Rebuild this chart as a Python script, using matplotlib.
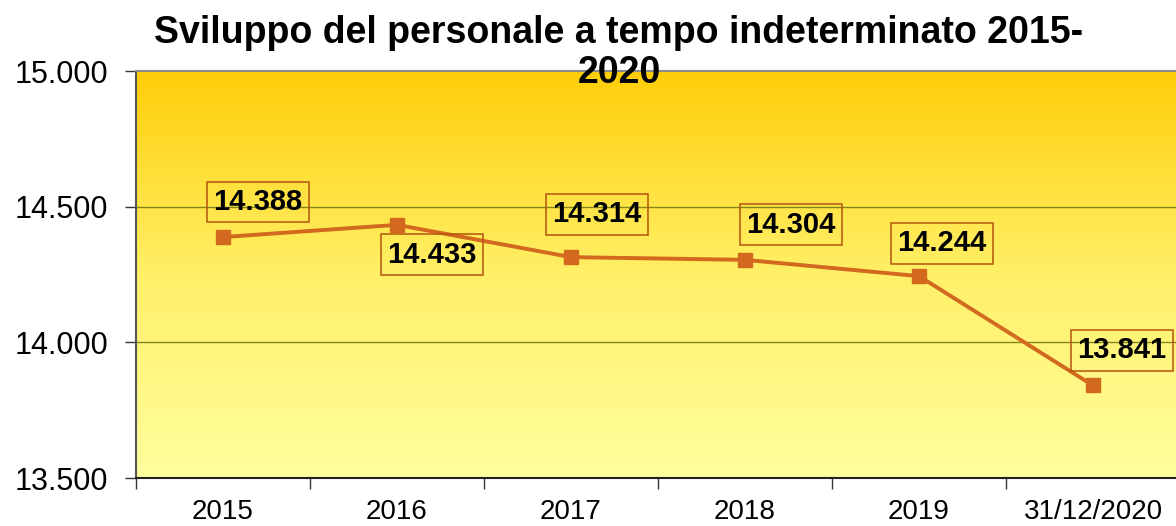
import matplotlib
matplotlib.use("Agg")
import matplotlib.pyplot as plt
import numpy as np
from matplotlib.colors import LinearSegmentedColormap

categories = ["2015", "2016", "2017", "2018", "2019", "31/12/2020"]
values = [14388, 14433, 14314, 14304, 14244, 13841]
label_offsets = [(35, 35), (35, -30), (26, 43), (46, 35), (23, 33), (29, 35)]
yticks = [13500, 14000, 14500, 15000]

plt.rcParams['font.family'] = ['Liberation Sans', 'DejaVu Sans']

def fmt(v):
    return f"{v:,}".replace(",", ".")

fig = plt.figure(figsize=(11.76, 5.26), dpi=100)
ax = fig.add_axes([136/1176, 1-478/526, 1044/1176, 407/526])

x = np.arange(len(categories))
ax.set_xlim(-0.5, len(categories) - 0.5)
ax.set_ylim(13500, 15000)

cmap = LinearSegmentedColormap.from_list("g", ["#FFFF9E", "#FFF068", "#FFCE08"])
grad = np.linspace(0, 1, 256).reshape(-1, 1)
ax.imshow(grad, aspect='auto', cmap=cmap, origin='lower',
          extent=[-0.5, len(categories) - 0.5, 13500, 15000], zorder=0)

for yv in [14000, 14500]:
    ax.axhline(yv, color="#84841a", lw=1.0, zorder=1)

ax.plot(x, values, color="#D2691E", lw=2.8, marker='s', markersize=9.5,
        markerfacecolor="#D2691E", markeredgecolor="#D2691E", zorder=3)

for xi, v, (dx, dy) in zip(x, values, label_offsets):
    ax.annotate(fmt(v), (xi, v), xytext=(dx, dy), textcoords='offset pixels',
                ha='center', va='center', fontsize=21, fontweight='bold',
                bbox=dict(boxstyle='square,pad=0.22', fc='none', ec='#B5540F', lw=1.1),
                zorder=4)

ax.set_yticks(yticks)
ax.set_yticklabels([fmt(t) for t in yticks], fontsize=22)
ax.set_xticks(np.arange(-0.5, len(categories), 1.0))
ax.set_xticklabels([])
ax.set_xticks(x, minor=True)
ax.set_xticklabels(categories, minor=True, fontsize=20)
ax.tick_params(axis='x', which='minor', length=0, pad=15)
ax.tick_params(axis='x', which='major', length=8, width=1, color='#333333')
ax.tick_params(axis='y', length=8, width=1, color='#333333', pad=12)

ax.spines['left'].set_color('#555555')
ax.spines['left'].set_linewidth(1.5)
ax.spines['bottom'].set_color('#222222')
ax.spines['bottom'].set_linewidth(1.5)
ax.spines['top'].set_color('#8a8a8a')
ax.spines['top'].set_linewidth(1.5)
ax.spines['right'].set_visible(False)

fig.text(619/1176, 1-33/526, "Sviluppo del personale a tempo indeterminato 2015-",
         ha='center', va='center', fontsize=27, fontweight='bold')
fig.text(619/1176, 1-73/526, "2020",
         ha='center', va='center', fontsize=27, fontweight='bold', zorder=10)

fig.savefig("out.png", dpi=100)
